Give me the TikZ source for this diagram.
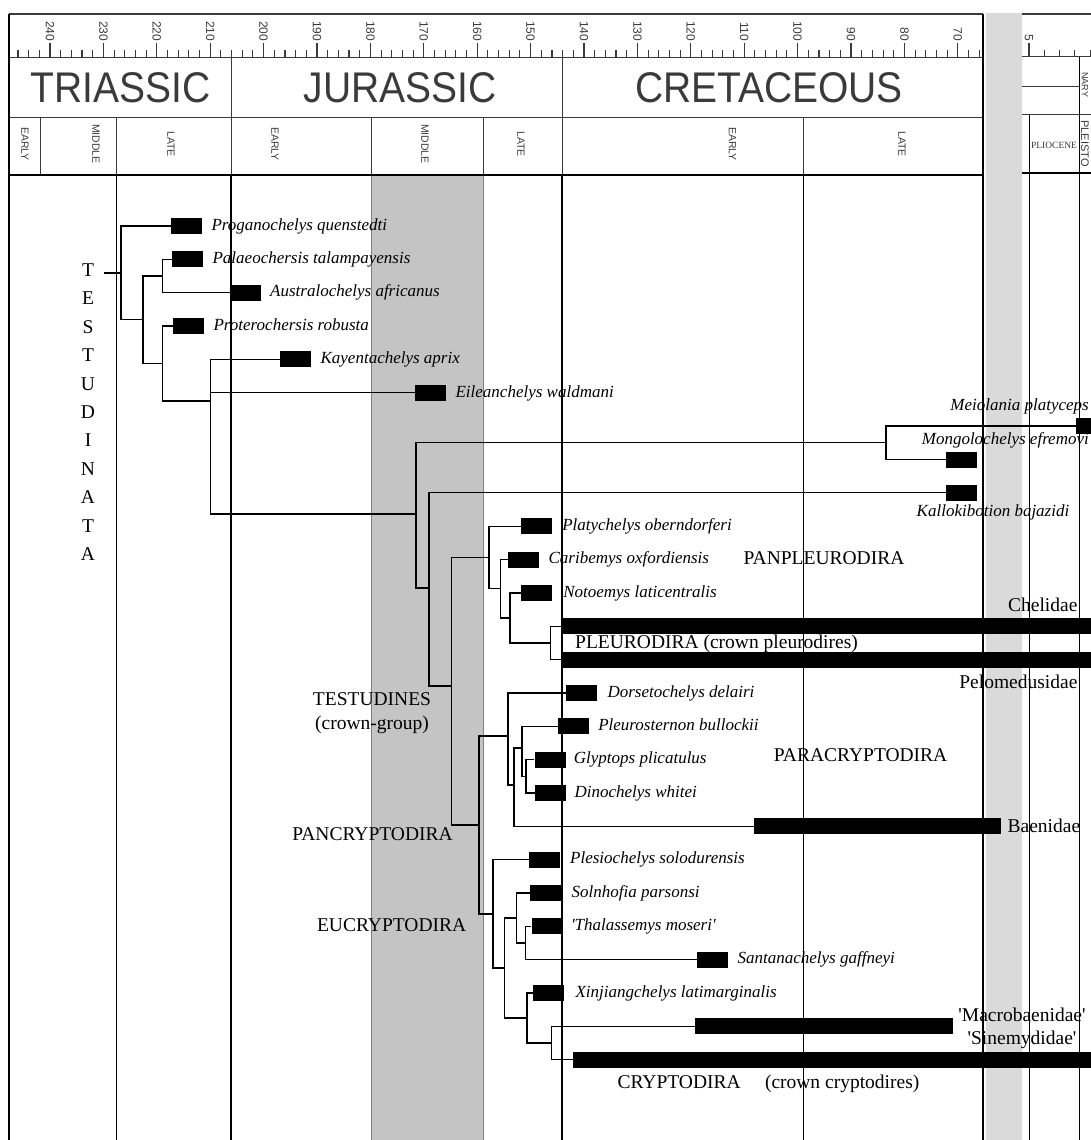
\documentclass[tikz,border=0pt]{standalone}
\usepackage{fontspec}
\setmainfont{Liberation Serif}
\setsansfont{Liberation Sans}
\usepackage{tikz}
\usetikzlibrary{positioning}
\definecolor{hdr}{HTML}{3A3A3A}
\definecolor{midjur}{HTML}{C4C4C4}
\definecolor{gapcol}{HTML}{DADADA}

\begin{document}
\begin{tikzpicture}[x=1pt,y=-1pt,
    br/.style={line width=1.3pt},
    taxon/.style={rectangle, fill=black, inner sep=0pt, minimum width=31pt, minimum height=16pt, anchor=west},
    bar/.style={rectangle, fill=black, inner sep=0pt, minimum height=16pt, anchor=west},
    sp/.style={font=\fontsize{17}{17}\selectfont\itshape, inner sep=0pt, text height=12pt, text depth=3.6pt},
    grp/.style={font=\fontsize{19.5}{19.5}\selectfont, inner sep=0pt, text height=12.9pt, text depth=0pt},
    period/.style={font=\sffamily\fontsize{39}{39}\selectfont, text=hdr, inner sep=0pt},
    epoch/.style={font=\sffamily\fontsize{10.5}{10.5}\selectfont, text=hdr, rotate=-90, inner sep=0pt},
    age/.style={font=\sffamily\fontsize{12}{12}\selectfont, text=hdr, rotate=-90, anchor=east, inner sep=0pt},
    hline/.style={draw=hdr, line width=1pt},
    tick/.style={draw=hdr, line width=1.1pt}
]
    \useasboundingbox (0,0) rectangle (1091,1140);
    \clip (0,0) rectangle (1091,1140);

    \fill[midjur] (371.4,175) rectangle (483,1140);
    \draw[gray, line width=0.6pt] (371.4,175) -- (371.4,1140) (483,175) -- (483,1140);

    \draw[hdr, line width=1.6pt] (9,14) -- (983,14);
    \draw[hline] (9,58) -- (983,58) (9,117.3) -- (983,117.3);
    \draw[hline] (231,58) -- (231,175) (562,58) -- (562,175);
    \draw[hline] (40,117.3) -- (40,175) (116,117.3) -- (116,175) (371.4,117.3) -- (371.4,175)
        (483,117.3) -- (483,175) (803,117.3) -- (803,175);
    \draw[line width=2pt] (9,175) -- (983,175);
    \draw[line width=2.2pt] (9,14) -- (9,1140) (983,14) -- (983,1140);
    \draw[line width=2pt] (231,175) -- (231,1140) (562,175) -- (562,1140);
    \draw[line width=0.9pt] (116,175) -- (116,1140) (803,175) -- (803,1140);

    \foreach \t in {66,68,...,246}
        \draw[tick] ({1331.6-5.34*\t},50) -- ({1331.6-5.34*\t},58);
    \foreach \t in {70,80,...,240} {
        \draw[tick] ({1331.6-5.34*\t},43) -- ({1331.6-5.34*\t},58);
        \node[age] (t\t) at ({1331.6-5.34*\t},41.5) {\t};
    }

    \node[period] (tri) at (120.5,87.7) {\scalebox{1}[1.1]{TRIASSIC}};
    \node[period] (jur) at (400,87.7) {\scalebox{1}[1.1]{JURASSIC}};
    \node[period] (cre) at (769,87.7) {\scalebox{1}[1.1]{CRETACEOUS}};
    \node[epoch] (tre) at (25,144) {EARLY};
    \node[epoch] (trm) at (96,144) {MIDDLE};
    \node[epoch] (trl) at (171,144) {LATE};
    \node[epoch] (jue) at (275,144) {EARLY};
    \node[epoch] (jum) at (425,144) {MIDDLE};
    \node[epoch] (jul) at (521,144) {LATE};
    \node[epoch] (cre-e) at (732.5,144) {EARLY};
    \node[epoch] (cre-l) at (902,144) {LATE};

    \fill[gapcol] (986,13) rectangle (1022,1140);

    \draw[hdr, line width=1.6pt] (1022,14) -- (1091,14);
    \draw[hline] (1022,57) -- (1091,57) (1022,86) -- (1079,86) (1022,114) -- (1091,114);
    \draw[line width=0.9pt] (1079,57) -- (1079,1140) (1029,114) -- (1029,1140);
    \draw[line width=2pt] (1022,173) -- (1091,173);
    \draw[tick] (1029,43) -- (1029,57);
    \foreach \k in {1,...,4}
        \draw[tick] ({1029+15.3*\k},50) -- ({1029+15.3*\k},57);
    \node[age] (t5) at (1029,41) {5};
    \node[epoch, font=\sffamily\fontsize{9}{9}\selectfont, anchor=west] (nary) at (1085,72) {NARY};
    \node[epoch, font=\sffamily\fontsize{11}{11}\selectfont] (pleisto) at (1085,143.5) {PLEISTO};
    \node[font=\fontsize{9.5}{9.5}\selectfont, text=hdr, inner sep=0pt] (plio) at (1054,145) {PLIOCENE};

    \coordinate (root) at (104,272.9);
    \coordinate (nA) at (121,272.9);
    \coordinate (nB) at (143,319.8);
    \coordinate (nC) at (162.5,276);
    \coordinate (nD) at (162.5,363.5);
    \coordinate (nE) at (210.7,401);
    \coordinate (nF) at (416,514);
    \coordinate (nM) at (886,442.8);
    \coordinate (nG) at (429,588);
    \coordinate (nH) at (451.7,686);
    \coordinate (nPP) at (489,557.5);
    \coordinate (nCa) at (500.7,588.7);
    \coordinate (nNo) at (510,617.9);
    \coordinate (nPl) at (550.7,642.9);
    \coordinate (nPC) at (479,825);
    \coordinate (nQ) at (508,736);
    \coordinate (nBa) at (514,785);
    \coordinate (nPG) at (522,748);
    \coordinate (nGD) at (526,776.3);
    \coordinate (nEU) at (493,913.9);
    \coordinate (nS) at (504.6,968);
    \coordinate (nT) at (516.4,918);
    \coordinate (nU) at (525.7,943);
    \coordinate (nV) at (527,1018.1);
    \coordinate (nW) at (551.8,1043.1);

    \node[taxon] (prog) at (171,226) {};
    \node[taxon] (pala) at (172,259.4) {};
    \node[taxon] (aust) at (229.6,292.7) {};
    \node[taxon] (prot) at (173,326.1) {};
    \node[taxon] (kay) at (280,359.4) {};
    \node[taxon] (eil) at (415,392.8) {};
    \node[taxon] (mei) at (1076,426.1) {};
    \node[taxon] (mon) at (946,459.5) {};
    \node[taxon] (kal) at (946,492.8) {};
    \node[taxon] (pla) at (520.7,526.2) {};
    \node[taxon] (car) at (508,559.5) {};
    \node[taxon] (noto) at (520.7,592.9) {};
    \node[bar, minimum width=540pt] (chel) at (562,626.2) {};
    \node[bar, minimum width=540pt] (pelo) at (562,659.6) {};
    \node[taxon] (dor) at (566,692.9) {};
    \node[taxon] (ple) at (557.7,726.3) {};
    \node[taxon] (gly) at (534.3,759.6) {};
    \node[taxon] (din) at (535,793) {};
    \node[bar, minimum width=247.4pt] (baen) at (753.6,826.3) {};
    \node[taxon] (ples) at (528.6,859.7) {};
    \node[taxon] (sol) at (530,893) {};
    \node[taxon] (tha) at (531.4,926.4) {};
    \node[taxon] (san) at (697,959.7) {};
    \node[taxon] (xin) at (533,993.1) {};
    \node[bar, minimum width=258.3pt] (macro) at (694.6,1026.4) {};
    \node[bar, minimum width=530pt] (crypt) at (572.7,1059.8) {};

    \draw[br] (root) -- (nA);
    \foreach \p/\c in {nA/prog.west, nA/nB, nB/nC, nB/nD, nC/pala.west, nC/aust.west,
        nD/prot.west, nD/nE, nE/kay.west, nE/eil.west, nE/nF, nF/nM, nF/nG,
        nM/mei.west, nM/mon.west, nG/kal.west, nG/nH, nH/nPP, nH/nPC,
        nPP/pla.west, nPP/nCa, nCa/car.west, nCa/nNo, nNo/noto.west, nNo/nPl,
        nPl/chel.west, nPl/pelo.west, nPC/nQ, nPC/nEU, nQ/dor.west, nQ/nBa,
        nBa/nPG, nBa/baen.west, nPG/ple.west, nPG/nGD, nGD/gly.west, nGD/din.west,
        nEU/ples.west, nEU/nS, nS/nT, nS/nV, nT/sol.west, nT/nU, nU/tha.west,
        nU/san.west, nV/xin.west, nV/nW, nW/macro.west, nW/crypt.west}
        \draw[br] (\p) |- (\c);

    \node[sp, right=9pt of prog] (progname) {Proganochelys quenstedti};
    \node[sp, right=9pt of pala] (palaname) {Palaeochersis talampayensis};
    \node[sp, right=9pt of aust] (austname) {Australochelys africanus};
    \node[sp, right=9pt of prot] (protname) {Proterochersis robusta};
    \node[sp, right=9pt of kay] (kayname) {Kayentachelys aprix};
    \node[sp, right=9pt of eil] (eilname) {Eileanchelys waldmani};
    \node[sp, anchor=east] (meiname) at (1089,406.7) {Meiolania platyceps};
    \node[sp, anchor=east] (monname) at (1089,440) {Mongolochelys efremovi};
    \node[sp] (kalname) at (993,512) {Kallokibotion bajazidi};
    \node[sp, right=10pt of pla] (planame) {Platychelys oberndorferi};
    \node[sp, right=9pt of car] (carname) {Caribemys oxfordiensis};
    \node[sp, right=11pt of noto] (notoname) {Notoemys laticentralis};
    \node[sp, right=10pt of dor] (dorname) {Dorsetochelys delairi};
    \node[sp, right=9pt of ple] (plename) {Pleurosternon bullockii};
    \node[sp, right=8pt of gly] (glyname) {Glyptops plicatulus};
    \node[sp, right=8pt of din] (dinname) {Dinochelys whitei};
    \node[sp, right=10pt of ples] (plesname) {Plesiochelys solodurensis};
    \node[sp, right=10pt of sol] (solname) {Solnhofia parsonsi};
    \node[sp, right=8pt of tha] (thaname) {\textquotesingle Thalassemys moseri\textquotesingle};
    \node[sp, right=9pt of san] (sanname) {Santanachelys gaffneyi};
    \node[sp, right=11pt of xin] (xinname) {Xinjiangchelys latimarginalis};

    \node[grp, anchor=east] (chelname) at (1077.6,605) {Chelidae};
    \node[grp, anchor=east] (peloname) at (1077.6,681.7) {Pelomedusidae};
    \node[grp, right=6pt of baen] (baenname) {Baenidae};
    \node[grp] (macroname) at (1022,1015) {\textquotesingle Macrobaenidae\textquotesingle};
    \node[grp] (sinename) at (1022,1038) {\textquotesingle Sinemydidae\textquotesingle};

    \node[align=center, font=\fontsize{19.5}{28.4}\selectfont, inner sep=0pt] (testudinata) at (88,412.2)
        {T\\E\\S\\T\\U\\D\\I\\N\\A\\T\\A};
    \node[grp] (panpleu) at (824,558) {PANPLEURODIRA};
    \node[grp, anchor=west] (pleuro) at (575,641.7) {PLEURODIRA (crown pleurodires)};
    \node[grp] (paracr) at (860.6,755) {PARACRYPTODIRA};
    \node[grp] (testud) at (372,699.3) {TESTUDINES};
    \node[grp] (crowngrp) at (372,722.7) {(crown-group)};
    \node[grp] (pancr) at (372.5,834) {PANCRYPTODIRA};
    \node[grp] (eucr) at (391.6,925) {EUCRYPTODIRA};
    \node[grp, anchor=west] (cryptname) at (617.3,1081.7) {CRYPTODIRA \quad(crown cryptodires)};
\end{tikzpicture}
\end{document}
